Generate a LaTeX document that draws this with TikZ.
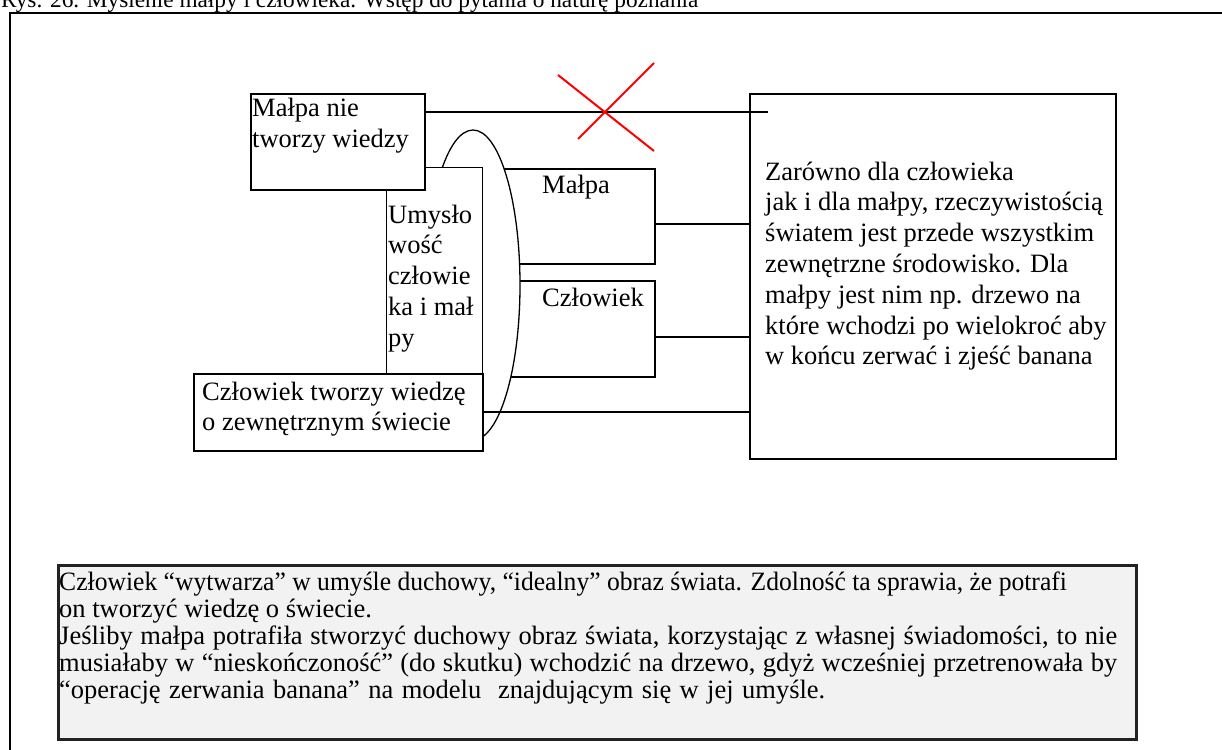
\documentclass[tikz,border=0pt]{standalone}
\usepackage{graphicx}
\usepackage{fontspec}
\setmainfont{Liberation Serif}
\usetikzlibrary{shapes.geometric}
\definecolor{notegray}{HTML}{F2F2F2}
\definecolor{notebord}{HTML}{222222}
\newcommand{\notefit}[2]{\hbox to #1{\spaceskip=0.25em plus 1fil minus 1fil\relax #2}}
\begin{document}
\begin{tikzpicture}[x=1pt,y=-1pt,
  boxshape/.style={draw=black, fill=white, line width=2pt, inner sep=0pt, anchor=north west},
  thinbox/.style={boxshape, line width=1.4pt},
  conn/.style={draw=black, line width=1.5pt},
  txt/.style={anchor=base west, inner sep=0pt, font=\fontsize{26.5}{30.8}\selectfont},
  titletxt/.style={anchor=base west, inner sep=0pt, font=\fontsize{23.3}{27}\selectfont},
  notetxt/.style={anchor=base west, inner sep=0pt, font=\fontsize{26.5}{27.2}\selectfont},
  cross/.style={draw=red, line width=2pt}]
\useasboundingbox (0,0) rectangle (1222,749);

% outer frame (runs off the page at right and bottom)
\draw[line width=2.8pt] (1240,13) -- (10,13) -- (10,760);

% title (cut off at the top)
\node[titletxt] (title) at (1,8) {Rys. 26. Myślenie małpy i człowieka. Wstęp do pytania o naturę poznania};

% boxes behind the oval
\node[boxshape, minimum width=164, minimum height=95] (malpa) at (490,168) {};
\node[boxshape, minimum width=164, minimum height=96] (czlowiek) at (490,280) {};

% oval
\node[draw=black, fill=white, ellipse, line width=1.3pt, inner sep=0pt,
      minimum width=94, minimum height=310] (oval) at (473,285) {};

% Umyslowosc box
\node[thinbox, minimum width=96, minimum height=206] (umysl) at (386,167) {};
% Czlowiek tworzy wiedze box
\node[boxshape, minimum width=289, minimum height=77] (ctw) at (193,373) {};
% Malpa nie tworzy wiedzy box
\node[boxshape, minimum width=174, minimum height=96] (mnie) at (250,93) {};

% big box on the right
\node[draw=black, line width=2pt, inner sep=0pt, anchor=north west,
      minimum width=366, minimum height=365] (big) at (749,93) {};

% texts
\node[txt] (tmnie) at (252,117) {\begin{tabular}[t]{@{}l@{}}Małpa nie\\tworzy wiedzy\end{tabular}};
\node[txt] (tumysl) at (388,223) {\begin{tabular}[t]{@{}l@{}}Umysło\\wość\\człowie\\ka i mał\\py\end{tabular}};
\node[txt] (tctw) at (202,400) {\begin{tabular}[t]{@{}l@{}}Człowiek tworzy wiedzę\\o zewnętrznym świecie\end{tabular}};
\node[txt] (tmalpa) at (542,193) {Małpa};
\node[txt] (tczl) at (542,306) {Człowiek};
\node[txt] (tbig) at (765,180) {\begin{tabular}[t]{@{}l@{}}Zarówno dla człowieka\\jak i dla małpy, rzeczywistością\\światem jest przede wszystkim\\zewnętrzne środowisko. Dla\\małpy jest nim np. drzewo na\\które wchodzi po wielokroć aby\\w końcu zerwać i zjeść banana\end{tabular}};

% connectors
\coordinate (crossend) at (768,112);
\draw[conn] (mnie.east |- 0,112) -- (crossend);
\draw[conn] (malpa.east |- 0,224) -- (big.west |- 0,224);
\draw[conn] (czlowiek.east |- 0,337) -- (big.west |- 0,337);
\draw[conn] (ctw.east |- 0,412) -- (big.west |- 0,412);

% red cross over the top connector
\draw[cross] (558,75) -- (654,151);
\draw[cross] (578,139) -- (654,63);

% note box at the bottom
\node[draw=notebord, fill=notegray, line width=2.6pt, inner sep=0pt, anchor=north west,
      minimum width=1078, minimum height=174] (note) at (57,564) {};
\node[notetxt] (tnote) at (59,590) {\begin{tabular}[t]{@{}l@{}}\scalebox{0.966}[1]{Człowiek “wytwarza” w umyśle duchowy, “idealny” obraz świata. Zdolność ta sprawia, że potrafi}\\on tworzyć wiedzę o świecie.\\\notefit{1058pt}{Jeśliby małpa potrafiła stworzyć duchowy obraz świata, korzystając z własnej świadomości, to nie}\\\notefit{1058pt}{musiałaby w “nieskończoność” (do skutku) wchodzić na drzewo, gdyż wcześniej przetrenowała by}\\\notefit{766pt}{“operację zerwania banana” na modelu\ \ znajdującym się w jej umyśle.}\end{tabular}};
\end{tikzpicture}
\end{document}
